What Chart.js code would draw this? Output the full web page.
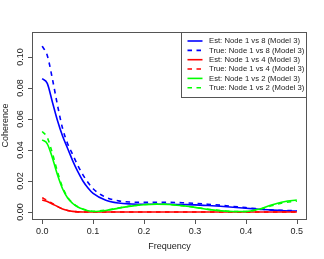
<!DOCTYPE html>
<html><head><meta charset="utf-8">
<script src="https://cdn.jsdelivr.net/npm/chart.js@4/dist/chart.umd.min.js"></script>
<style>html,body{margin:0;padding:0;background:#fff}canvas{display:block}</style>
</head><body>
<canvas id="c" width="324" height="259"></canvas>
<script>
const frequency = [0,0.01,0.02,0.03,0.04,0.05,0.06,0.07,0.08,0.09,0.10,0.125,0.15,0.175,0.20,0.225,0.25,0.275,0.30,0.325,0.35,0.375,0.40,0.425,0.45,0.475,0.50];
const est18  = [0.086,0.083,0.071,0.059,0.049,0.041,0.033,0.026,0.020,0.0155,0.012,0.0076,0.0058,0.0052,0.0050,0.0050,0.0050,0.0048,0.0046,0.0042,0.0037,0.0031,0.0024,0.0018,0.0012,0.0008,0.0006];
const true18 = [0.107,0.101,0.086,0.069,0.054,0.044,0.037,0.030,0.024,0.019,0.015,0.0095,0.0072,0.0064,0.0062,0.0062,0.0062,0.0060,0.0056,0.0050,0.0044,0.0036,0.0028,0.0020,0.0014,0.0010,0.0008];
const est14  = [0.0077,0.0068,0.0052,0.0035,0.0020,0.0010,0.0004,0.0001,0,0,0,0,0,0,0,0,0,0,0,0,0,0,0,0,0,0,0];
const true14 = [0.0092,0.0075,0.0055,0.0036,0.0020,0.0010,0.0004,0.0001,0,0,0,0,0,0,0,0,0,0,0,0,0,0,0,0,0,0,0];
const est12  = [0.0465,0.044,0.035,0.024,0.015,0.009,0.0055,0.0032,0.0018,0.0008,0.0003,0.0010,0.0025,0.0038,0.0047,0.0050,0.0048,0.0040,0.0030,0.0017,0.0008,0.0003,0.0003,0.0018,0.0045,0.0066,0.0077];
const true12 = [0.052,0.048,0.038,0.026,0.016,0.0095,0.0058,0.0034,0.0019,0.0010,0.0005,0.0012,0.0026,0.0039,0.0048,0.0051,0.0049,0.0041,0.0030,0.0018,0.0009,0.0003,0.0003,0.0016,0.0040,0.0060,0.0070];
const seriesLabels = ["Est: Node 1 vs 8 (Model 3)","True: Node 1 vs 8 (Model 3)","Est: Node 1 vs 4 (Model 3)","True: Node 1 vs 4 (Model 3)","Est: Node 1 vs 2 (Model 3)","True: Node 1 vs 2 (Model 3)"];
const xTicks = [0,0.1,0.2,0.3,0.4,0.5];
const xTickLabels = ["0.0","0.1","0.2","0.3","0.4","0.5"];
const yTicks = [0,0.02,0.04,0.06,0.08,0.10];
const yTickLabels = ["0.00","0.02","0.04","0.06","0.08","0.10"];
const xTitle = "Frequency";
const yTitle = "Coherence";

const seriesValues = [est18,true18,est14,true14,est12,true12];
const colors = ["#0000FF","#0000FF","#FF0000","#FF0000","#00FF00","#00FF00"];
const dashed = [false,true,false,true,false,true];
const FONT = '"Liberation Sans", Arial, sans-serif';
const AXIS = '#555';
const TEXT = '#222';

const datasets = seriesValues.map((vals,i)=>({
  label: seriesLabels[i],
  data: frequency.map((f,j)=>({x:f,y:vals[j]})),
  borderColor: colors[i],
  borderWidth: 1.6,
  borderDash: dashed[i]?[4.5,4.5]:[],
  pointRadius: 0,
  fill: false,
  cubicInterpolationMode: 'monotone',
  order: 10 - i
}));

const rPlugin = {
  id: 'rstyle',
  afterDraw(chart){
    const ctx = chart.ctx, ca = chart.chartArea;
    const xs = chart.scales.x, ys = chart.scales.y;
    ctx.save();
    ctx.strokeStyle = AXIS; ctx.lineWidth = 1; ctx.setLineDash([]);
    ctx.strokeRect(ca.left+0.5, ca.top+0.5, ca.right-ca.left-1, ca.bottom-ca.top);
    ctx.beginPath();
    xTicks.forEach(v=>{ const px = Math.round(xs.getPixelForValue(v))+0.5; ctx.moveTo(px, ca.bottom+0.5); ctx.lineTo(px, ca.bottom+5); });
    yTicks.forEach(v=>{ const py = Math.round(ys.getPixelForValue(v))+0.5; ctx.moveTo(ca.left+0.5, py); ctx.lineTo(ca.left-4, py); });
    ctx.stroke();
    ctx.fillStyle = TEXT;
    ctx.font = '9px ' + FONT;
    ctx.textAlign='center'; ctx.textBaseline='alphabetic';
    xTicks.forEach((v,i)=>{ ctx.fillText(xTickLabels[i], xs.getPixelForValue(v), 233.5); });
    yTicks.forEach((v,i)=>{
      ctx.save(); ctx.translate(23, ys.getPixelForValue(v)); ctx.rotate(-Math.PI/2);
      ctx.fillText(yTickLabels[i],0,0); ctx.restore();
    });
    ctx.fillText(xTitle, (ca.left+ca.right)/2, 249);
    ctx.save(); ctx.translate(8, (ca.top+ca.bottom)/2); ctx.rotate(-Math.PI/2); ctx.fillText(yTitle,0,0); ctx.restore();
    // legend
    const lx = 181.5, ly = ca.top+0.5, lw = ca.right-0.5-181.5, lh = 65;
    ctx.fillStyle = '#fff'; ctx.fillRect(lx, ly, lw, lh);
    ctx.strokeStyle = AXIS; ctx.strokeRect(lx, ly, lw, lh);
    ctx.font = '7.7px ' + FONT; ctx.textAlign='left'; ctx.textBaseline='middle';
    chart.data.datasets.forEach((ds,i)=>{
      const y = 41 + i*9.35;
      ctx.strokeStyle = ds.borderColor; ctx.lineWidth = 1.6; ctx.setLineDash(ds.borderDash);
      ctx.beginPath(); ctx.moveTo(187.5,y); ctx.lineTo(202.5,y); ctx.stroke();
      ctx.setLineDash([]);
      ctx.fillStyle = TEXT; ctx.fillText(ds.label, 209, y+0.3);
    });
    ctx.restore();
  }
};

new Chart(document.getElementById('c'), {
  type: 'line',
  data: { datasets },
  options: {
    responsive: false, devicePixelRatio: 1, animation: false,
    layout: { padding: { left: 32, right: 17, top: 32, bottom: 40 } },
    scales: {
      x: { type: 'linear', min: -0.02, max: 0.52, display: false },
      y: { type: 'linear', min: -0.004516, max: 0.11613, display: false }
    },
    plugins: { legend: { display: false }, tooltip: { enabled: false } }
  },
  plugins: [rPlugin]
});
</script>
</body></html>
